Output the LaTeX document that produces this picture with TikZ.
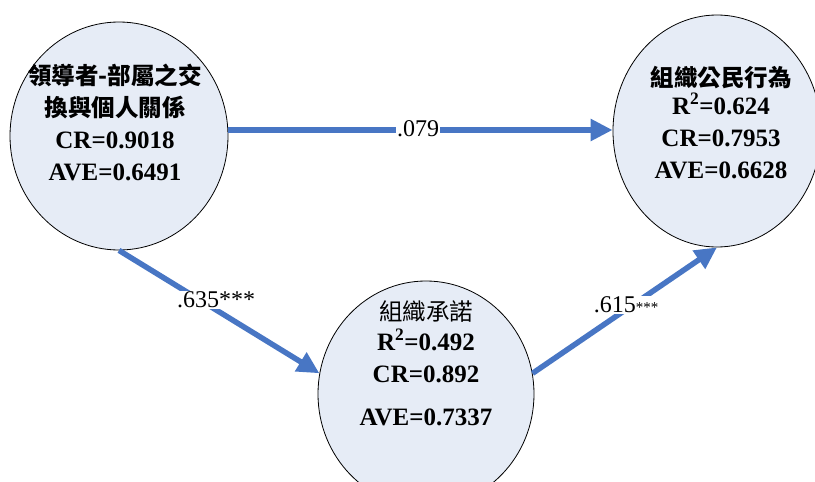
\documentclass[tikz,border=0pt]{standalone}
\usepackage{fontspec}
\setmainfont{Liberation Serif}
\newfontfamily\cjk{Noto Sans CJK TC}
\newfontfamily\cjkb{Noto Sans CJK TC Bold}
\usetikzlibrary{shapes.geometric,arrows.meta}
\definecolor{ellfill}{RGB}{230,236,246}
\definecolor{arrowblue}{RGB}{72,118,196}
\newcommand{\cjkline}[1]{{\fontsize{23.5}{32}\selectfont #1}}
\tikzset{
  ell/.style={ellipse, draw=black, line width=0.8pt, fill=ellfill, inner sep=0pt},
  conn/.style={draw=arrowblue, line width=5.5pt, -{Triangle[length=22pt,width=21pt]}},
  lbl/.style={fill=white, inner sep=1pt, font=\fontsize{24}{28}\selectfont},
  txt/.style={align=center, inner sep=0pt, anchor=base, font=\fontsize{25}{32}\selectfont\bfseries}
}
\begin{document}
\begin{tikzpicture}[x=1pt,y=-1pt]
\useasboundingbox (0,0) rectangle (815,482);
\clip (0,0) rectangle (815,482);
\node[ell, minimum width=218pt, minimum height=228pt] (L) at (119,136) {};
\node[ell, minimum width=208pt, minimum height=232pt] (R) at (717,131) {};
\node[ell, minimum width=216pt, minimum height=226pt] (B) at (426,394) {};

\node[txt] (Lt) at (115,180) {\cjkline{\cjkb 領導者-部屬之交}\\\cjkline{\cjkb 換與個人關係}\\CR=0.9018\\AVE=0.6491};
\node[txt] (Rt) at (721,178) {\cjkline{\cjkb 組織公民行為}\\[-4pt]R\textsuperscript{2}=0.624\\CR=0.7953\\AVE=0.6628};
\node[txt] (Bt) at (426,425) {\cjkline{\cjk\mdseries 組織承諾}\\[-2pt]R\textsuperscript{2}=0.492\\CR=0.892\\[11pt]AVE=0.7337};

\draw[conn] ([yshift=6pt]L.east) -- ([yshift=1pt]R.west);
\draw[conn] (L.south) -- (B.169);
\draw[conn] (B.11) -- (R.south);

\node[lbl] (l1) at (418,129) {.079};
\node[lbl] (l2) at (216,300) {.635***};
\node[lbl] (l3) at (626,305) {.615{\fontsize{15}{18}\selectfont***}};
\end{tikzpicture}
\end{document}
